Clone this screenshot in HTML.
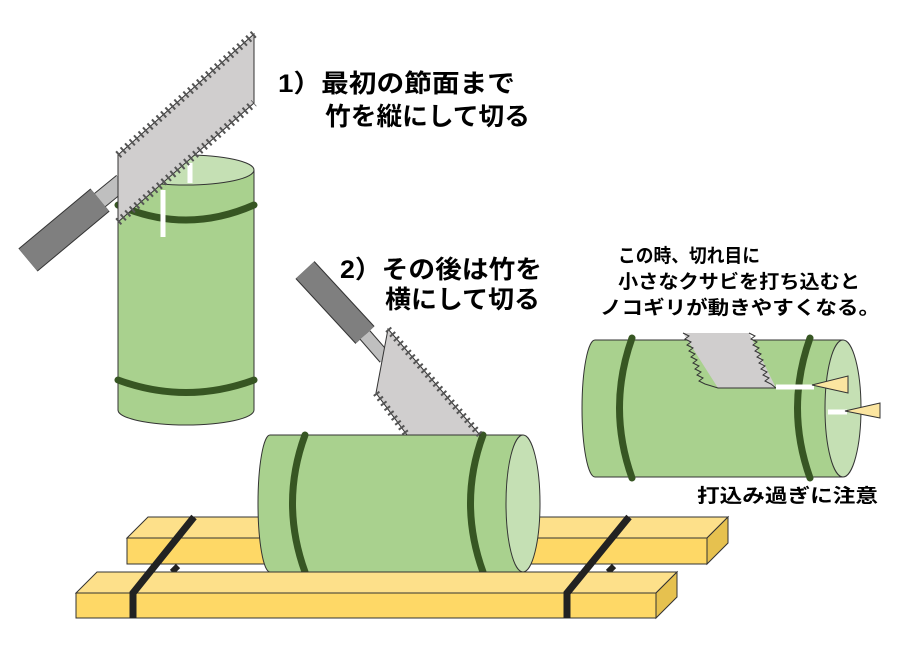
<!DOCTYPE html>
<html><head><meta charset="utf-8"><style>
body{margin:0;background:#fff}
svg{display:block}
text{font-family:"Liberation Sans","Noto Sans CJK JP",sans-serif;fill:#000}
</style></head><body>
<svg width="915" height="654" viewBox="0 0 915 654">
<!-- back plank -->
<polygon points="148,517 728,517 707,538 127,538" fill="#fde08a" stroke="#333" stroke-width="1"/>
<rect x="127" y="538" width="580" height="26" fill="#fed866" stroke="#333" stroke-width="1"/>
<polygon points="707,538 728,517 728,543 707,564" fill="#e6c14f" stroke="#333" stroke-width="1"/>
<line x1="178" y1="566" x2="172" y2="572" stroke="#222" stroke-width="6"/>
<line x1="614" y1="566" x2="608" y2="572" stroke="#222" stroke-width="6"/>
<!-- cylinder 1 vertical -->
<path d="M118,170 V410 A68,15 0 0 0 254,410 V170" fill="#a9d18e" stroke="#333" stroke-width="1"/>
<ellipse cx="186" cy="170" rx="68" ry="15" fill="#c5e0b4" stroke="#333" stroke-width="1"/>
<path d="M118,205 Q186,235 254,205" fill="none" stroke="#375623" stroke-width="7" stroke-linecap="round"/>
<path d="M118,380 Q186,405 254,380" fill="none" stroke="#375623" stroke-width="7" stroke-linecap="round"/>
<line x1="163" y1="190" x2="163" y2="237" stroke="#fff" stroke-width="5"/>
<line x1="190" y1="163" x2="190" y2="183" stroke="#fff" stroke-width="5"/>
<!-- saw 1 -->
<line x1="28" y1="260" x2="100" y2="200" stroke="#333" stroke-width="30"/>
<line x1="28" y1="260" x2="100" y2="200" stroke="#7f7f7f" stroke-width="28"/>
<line x1="100" y1="200" x2="122" y2="182" stroke="#333" stroke-width="18"/>
<line x1="100" y1="200" x2="122" y2="182" stroke="#bfbfbf" stroke-width="16"/>
<polygon points="118,155 254,34 254,103 118,222" fill="#d0cece" stroke="#333" stroke-width="1"/>
<path d="M118,155 L254,34" fill="none" stroke="#555" stroke-width="8" stroke-dasharray="2,4"/>
<path d="M118,222 L254,103" fill="none" stroke="#555" stroke-width="8" stroke-dasharray="2,4"/>
<!-- middle cylinder -->
<path d="M270,435 H523 V572 H270 A12,68.5 0 0 1 270,435 Z" fill="#a9d18e" stroke="#333" stroke-width="1"/>
<ellipse cx="523" cy="503.5" rx="17" ry="68.5" fill="#c5e0b4" stroke="#333" stroke-width="1"/>
<path d="M305,435 Q280,503 305,572" fill="none" stroke="#375623" stroke-width="7" stroke-linecap="round"/>
<path d="M483,435 Q458,503 483,572" fill="none" stroke="#375623" stroke-width="7" stroke-linecap="round"/>
<!-- saw 2 -->
<line x1="305" y1="270" x2="365" y2="335" stroke="#333" stroke-width="26"/>
<line x1="305" y1="270" x2="365" y2="335" stroke="#7f7f7f" stroke-width="24"/>
<line x1="365" y1="335" x2="385" y2="358" stroke="#333" stroke-width="14"/>
<line x1="365" y1="335" x2="385" y2="358" stroke="#bfbfbf" stroke-width="12"/>
<polygon points="388,329 376,393 407,435 480,435" fill="#d0cece" stroke="#333" stroke-width="1"/>
<path d="M388,329 L480,435" stroke="#555" stroke-width="7" stroke-dasharray="2,4" fill="none"/>
<path d="M376,393 L407,435" stroke="#555" stroke-width="7" stroke-dasharray="2,4" fill="none"/>
<!-- front plank -->
<polygon points="97,572 677,572 656,593 76,593" fill="#fde08a" stroke="#333" stroke-width="1"/>
<polygon points="656,593 677,572 677,597 656,618" fill="#e6c14f" stroke="#333" stroke-width="1"/>
<rect x="76" y="593" width="580" height="25" fill="#fed866" stroke="#333" stroke-width="1"/>
<!-- straps -->
<path d="M194,517 L133,593 V618" fill="none" stroke="#222" stroke-width="7"/>
<path d="M629,517 L567,593 V618" fill="none" stroke="#222" stroke-width="7"/>
<!-- right cylinder -->
<path d="M595,340 H843 V477 H595 A13,68.5 0 0 1 595,340 Z" fill="#a9d18e" stroke="#333" stroke-width="1"/>
<ellipse cx="843" cy="408.5" rx="18" ry="68.5" fill="#c5e0b4" stroke="#333" stroke-width="1"/>
<path d="M632,338 Q607,408 632,478" fill="none" stroke="#375623" stroke-width="7" stroke-linecap="round"/>
<path d="M810,338 Q785,408 810,478" fill="none" stroke="#375623" stroke-width="7" stroke-linecap="round"/>
<polygon points="683,333 749,333 776,388 718,388" fill="#d0cece"/>
<path d="M683,333 l6,3 -4,3 6,3 -4,3 6,3 -4,3 6,3 -4,3 6,3 -4,3 6,3 -4,3 6,3 -4,3 6,3 -4,3 6,3 L718,388 H776 M749,333 l6,3 -4,3 6,3 -4,3 6,3 -4,3 6,3 -4,3 6,3 -4,3 6,3 -4,3 6,3 -4,3 6,3 -4,3 6,3 L776,388" fill="none" stroke="#333" stroke-width="1"/>
<line x1="776" y1="387" x2="814" y2="387" stroke="#fff" stroke-width="5"/>
<polygon points="812,385 848,376 848,393" fill="#fbe5a0" stroke="#333" stroke-width="1"/>
<line x1="828" y1="412" x2="847" y2="412" stroke="#fff" stroke-width="5"/>
<polygon points="845,411 880,403 880,418" fill="#fbe5a0" stroke="#333" stroke-width="1"/>
<!-- texts -->
<g font-size="25" font-weight="bold">
<text x="278" y="92" textLength="237" lengthAdjust="spacingAndGlyphs">1）最初の節面まで</text>
<text x="325" y="125" textLength="205" lengthAdjust="spacingAndGlyphs">竹を縦にして切る</text>
<text x="340" y="278" textLength="202" lengthAdjust="spacingAndGlyphs">2）その後は竹を</text>
<text x="385" y="308" textLength="155" lengthAdjust="spacingAndGlyphs">横にして切る</text>
</g>
<g font-size="19" font-weight="bold">
<text x="618" y="262" textLength="142" lengthAdjust="spacingAndGlyphs">この時、切れ目に</text>
<text x="618" y="288" textLength="242" lengthAdjust="spacingAndGlyphs">小さなクサビを打ち込むと</text>
<text x="600" y="314" textLength="280" lengthAdjust="spacingAndGlyphs">ノコギリが動きやすくなる。</text>
<text x="697" y="502" font-size="19" textLength="181" lengthAdjust="spacingAndGlyphs">打込み過ぎに注意</text>
</g>
</svg>
</body></html>
